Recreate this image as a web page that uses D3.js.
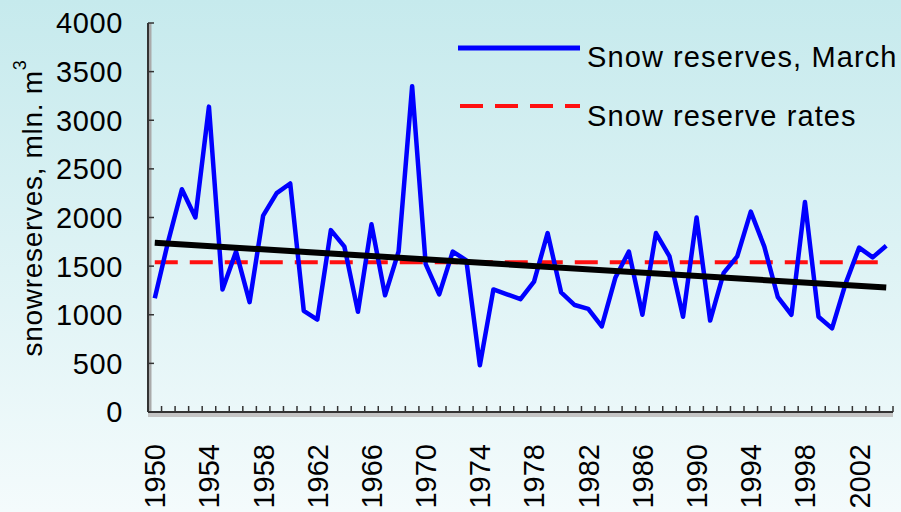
<!DOCTYPE html>
<html lang="en">
<head>
  <meta charset="UTF-8">
  <title>Snow reserves</title>
  <style>
    body { margin: 0; }
    #grafico { display: block; font-family: "Liberation Sans", Arial, sans-serif; }
    .tick-label { font-size: 29px; fill: #000; letter-spacing: 0.6px; }
    .year-label { font-size: 29px; fill: #000; }
  </style>
</head>
<body>
  <svg id="grafico"></svg>

  <script src="https://d3js.org/d3.v7.min.js"></script>
  <script>
    const years = d3.range(1950, 2005);
    const reserves = [
      1170, 1760, 2290, 2000, 3140, 1260, 1650, 1130, 2020, 2250,
      2350, 1040, 950, 1870, 1700, 1030, 1930, 1200, 1650, 3350,
      1520, 1210, 1650, 1560, 480, 1260, 1210, 1160, 1340, 1840,
      1230, 1100, 1060, 880, 1380, 1650, 1000, 1840, 1600, 980,
      2000, 940, 1430, 1600, 2060, 1700, 1180, 1000, 2160, 980,
      860, 1320, 1690, 1590, 1710
    ];
    const trendEnds = [1740, 1280];   // linear trend, first and last year
    const rate = 1540;                // snow reserve rate
    const yTicks = [0, 500, 1000, 1500, 2000, 2500, 3000, 3500, 4000];
    const yearLabels = d3.range(1950, 2003, 4);
    const legendNames = ['Snow reserves, March', 'Snow reserve rates'];

    function desenha() {
      const largura = 901, altura = 512;
      const esq = 148, dir = 893, topo = 23, base = 412;
      const svg = d3.select('#grafico').attr('width', largura).attr('height', altura);

      // background gradient
      const grad = svg.append('defs').append('linearGradient')
        .attr('id', 'fundo').attr('x1', 0).attr('y1', 0).attr('x2', 0).attr('y2', 1);
      grad.append('stop').attr('offset', '0%').attr('stop-color', '#c6eaed');
      grad.append('stop').attr('offset', '100%').attr('stop-color', '#f4fbfc');
      svg.append('rect').attr('width', largura).attr('height', altura).attr('fill', 'url(#fundo)');

      const x = d3.scaleBand().domain(years).range([esq, dir]);
      const y = d3.scaleLinear().domain([0, 4000]).range([base, topo]);
      const cx = d => x(d) + x.bandwidth() / 2;

      // y axis
      svg.append('line').attr('x1', esq + 2).attr('x2', esq + 2).attr('y1', topo).attr('y2', base + 3)
        .attr('stroke', '#aaa').attr('stroke-width', 3);
      svg.append('line').attr('x1', esq).attr('x2', esq).attr('y1', topo).attr('y2', base)
        .attr('stroke', '#333').attr('stroke-width', 2);
      svg.selectAll('.ytick').data(yTicks).enter().append('line')
        .attr('x1', esq).attr('x2', esq + 6)
        .attr('y1', d => y(d)).attr('y2', d => y(d))
        .attr('stroke', '#333').attr('stroke-width', 1.5);
      svg.selectAll('.ylab').data(yTicks).enter().append('text')
        .classed('tick-label', true)
        .attr('x', 123).attr('y', d => y(d)).attr('dy', '0.36em')
        .attr('text-anchor', 'end')
        .text(d => d);

      // x axis
      svg.append('line').attr('x1', esq).attr('x2', dir).attr('y1', base + 3).attr('y2', base + 3)
        .attr('stroke', '#c4c4c4').attr('stroke-width', 4);
      svg.append('line').attr('x1', esq).attr('x2', dir).attr('y1', base).attr('y2', base)
        .attr('stroke', '#333').attr('stroke-width', 2);
      svg.selectAll('.xtick').data(years.concat([null])).enter().append('line')
        .attr('x1', (d, i) => esq + i * x.bandwidth()).attr('x2', (d, i) => esq + i * x.bandwidth())
        .attr('y1', base).attr('y2', base - 6)
        .attr('stroke', '#333').attr('stroke-width', 1.5);
      svg.selectAll('.xlab').data(yearLabels).enter().append('text')
        .classed('year-label', true)
        .attr('transform', d => `translate(${cx(d)},444) rotate(-90)`)
        .attr('dy', '0.36em')
        .attr('text-anchor', 'end')
        .text(d => d);

      // y axis title
      const titulo = svg.append('text')
        .attr('transform', 'translate(32,208) rotate(-90)')
        .attr('dy', '0.36em')
        .attr('text-anchor', 'middle')
        .attr('font-size', 28)
        .attr('letter-spacing', 0.7);
      titulo.append('tspan').text('snowreserves, mln. m');
      titulo.append('tspan').attr('font-size', 18).attr('dy', '-0.9em').text('3');

      // rate line
      svg.append('line')
        .attr('x1', cx(years[0])).attr('x2', cx(years[years.length - 1]))
        .attr('y1', y(rate)).attr('y2', y(rate))
        .attr('stroke', '#ff1010').attr('stroke-width', 4).attr('stroke-dasharray', '23,12');

      // series
      const linha = d3.line().x((d, i) => cx(years[i])).y(d => y(d));
      svg.append('path').datum(reserves)
        .attr('d', linha)
        .attr('fill', 'none').attr('stroke', '#0000ff').attr('stroke-width', 4.5)
        .attr('stroke-linejoin', 'round');

      // trend
      svg.append('line')
        .attr('x1', cx(years[0])).attr('x2', cx(years[years.length - 1]))
        .attr('y1', y(trendEnds[0])).attr('y2', y(trendEnds[1]))
        .attr('stroke', '#000').attr('stroke-width', 6);

      // legend
      const leg = svg.append('g');
      leg.append('line').attr('x1', 458).attr('x2', 580).attr('y1', 48).attr('y2', 48)
        .attr('stroke', '#0000ff').attr('stroke-width', 5);
      leg.append('line').attr('x1', 460).attr('x2', 580).attr('y1', 106).attr('y2', 106)
        .attr('stroke', '#ff1010').attr('stroke-width', 4).attr('stroke-dasharray', '23,12');
      leg.selectAll('text').data(legendNames).enter().append('text')
        .attr('x', 587).attr('y', (d, i) => 57 + i * 59).attr('dy', '0.36em')
        .attr('font-size', 29)
        .attr('letter-spacing', 1.1)
        .text(d => d);
    }

    desenha();
  </script>
</body>
</html>
